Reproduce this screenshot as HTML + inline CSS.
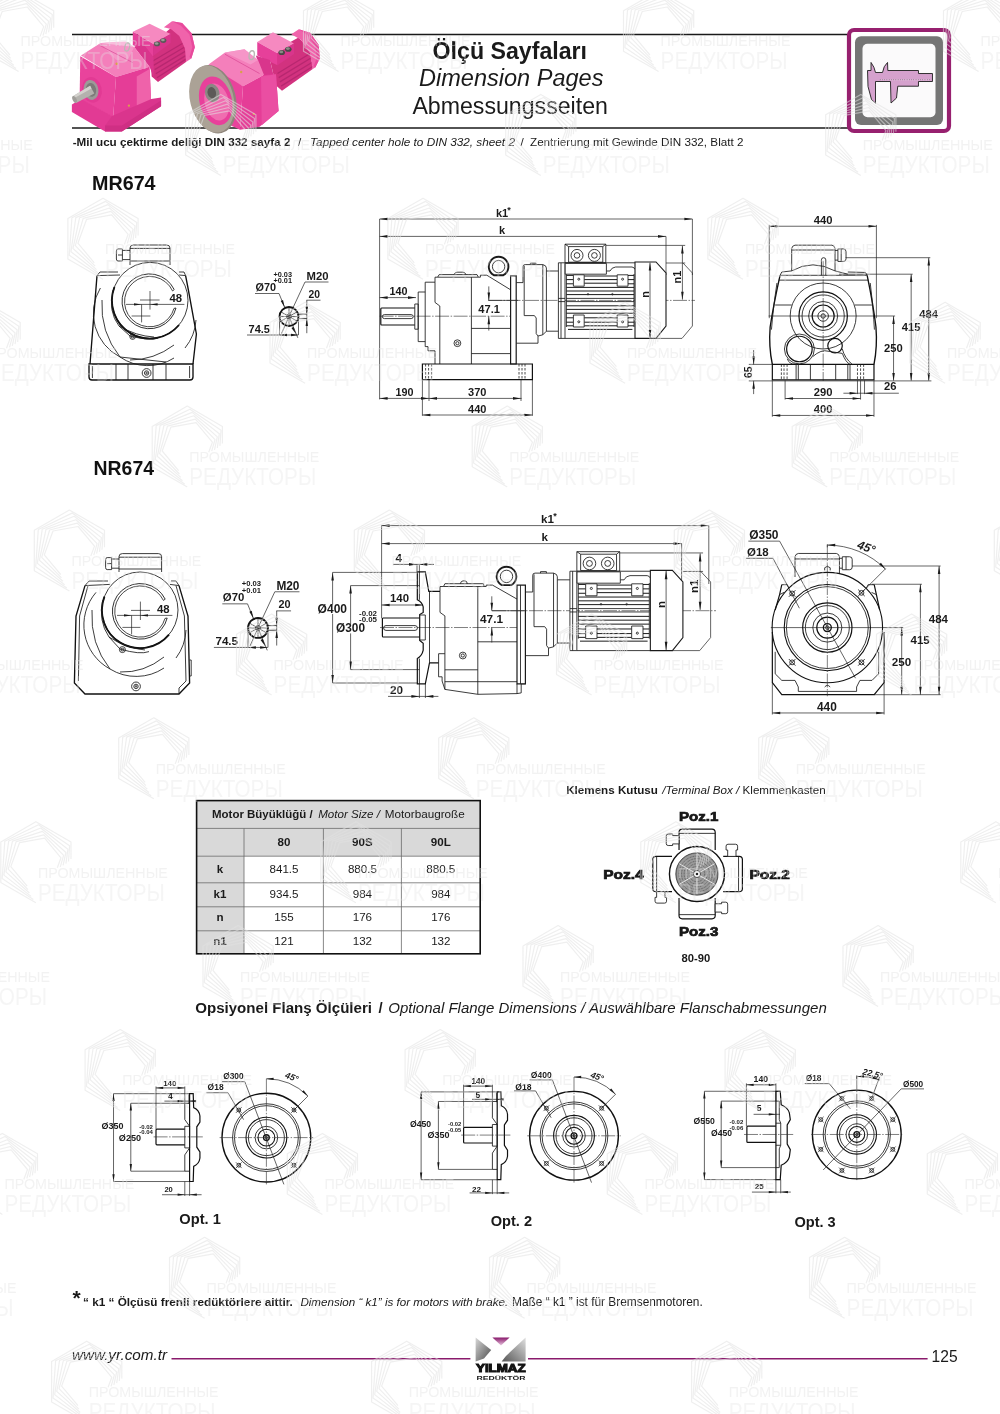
<!DOCTYPE html>
<html><head><meta charset="utf-8"><title>Dimension Pages</title>
<style>
html,body{margin:0;padding:0;background:#fff;}
body{width:1000px;height:1414px;overflow:hidden;font-family:"Liberation Sans",sans-serif;}
svg{display:block;font-family:"Liberation Sans",sans-serif;}
svg{will-change:transform}
.b{font-weight:bold}.i{font-style:italic}
.l{fill:none;stroke:#1a1a1a;stroke-width:.85;vector-effect:non-scaling-stroke}
.t{fill:none;stroke:#111;stroke-width:1.35;vector-effect:non-scaling-stroke}
.d{fill:none;stroke:#222;stroke-width:.7;vector-effect:non-scaling-stroke}
.c{fill:none;stroke:#2a2a2a;stroke-width:.6;stroke-dasharray:14 1.5 1.5 1.5;vector-effect:non-scaling-stroke}
.h{fill:none;stroke:#222;stroke-width:.8;stroke-dasharray:2.5 1.5;vector-effect:non-scaling-stroke}
.l *,.t *,.d *{vector-effect:non-scaling-stroke}
.w{fill:#fff;stroke:#1a1a1a;stroke-width:.85;vector-effect:non-scaling-stroke}
.dim{font-weight:bold;font-size:10.5px;fill:#1a1a1a}
.sm{font-weight:bold;font-size:9px;fill:#1a1a1a}
.tol{font-weight:bold;font-size:6px;fill:#1a1a1a}
</style></head><body>
<svg width="1000" height="1414" viewBox="0 0 1000 1414">
<!-- header -->
<defs>
<marker id="ah" viewBox="0 0 10 4" refX="10" refY="2" markerWidth="7" markerHeight="2.6" orient="auto-start-reverse"><path d="M0,0 L10,2 L0,4 Z" fill="#222"/></marker>
</defs>
<g id="header">
<line x1="72" y1="34.5" x2="848" y2="34.5" stroke="#1a1a1a" stroke-width="1.3"/>
<line x1="72" y1="128" x2="848" y2="128" stroke="#1a1a1a" stroke-width="1.3"/>
<text transform="translate(432.60,58.70)" font-size="23.16" style="font-weight:bold;" fill="#1a1a1a">Ölçü Sayfaları</text>
<text transform="translate(419.00,86.30)" font-size="23.54" style="font-style:italic;" fill="#1a1a1a">Dimension Pages</text>
<text transform="translate(412.40,114.20)" font-size="23.15" style="" fill="#1a1a1a">Abmessungsseiten</text>
<text transform="translate(72.70,146.30)" font-size="11.67" style="font-weight:bold;" fill="#1a1a1a">-Mil ucu çektirme deliği DIN 332 sayfa 2</text>
<text transform="translate(298.00,146.30)" font-size="11.7" style="" fill="#1a1a1a">/</text>
<text transform="translate(310.00,146.30)" font-size="11.77" style="font-style:italic;" fill="#1a1a1a">Tapped center hole to DIN 332, sheet 2</text>
<text transform="translate(520.50,146.30)" font-size="11.7" style="" fill="#1a1a1a">/</text>
<text transform="translate(530.00,146.30)" font-size="11.68" style="" fill="#1a1a1a">Zentrierung mit Gewinde DIN 332, Blatt 2</text>
<!-- icon -->
<rect x="849" y="30" width="100" height="101" rx="5" fill="#fff" stroke="#97206f" stroke-width="4.2"/>
<rect x="855" y="36.3" width="88" height="88.6" rx="6" fill="#757575"/>
<rect x="862.5" y="43.7" width="73" height="73.5" rx="5" fill="#fbfafb"/>
<g transform="translate(830,15) scale(0.14)">
<path d="M268,396.5 L293,396.5 L293,339 Q318,371 325,410.7 L375,410.7 Q382,364 411,339 L413,396.5 L632,396.5 L632,418 L732,418 L732,475 L632,475 L632,508.6 L484,508.6 L475,593 L436,628.6 L432,475 L325,475 L325,630 L296.5,603.6 L271.5,510.7 Z" fill="#d5a1cd" stroke="#1f1f1f" stroke-width="6.5" stroke-linejoin="round"/>
<line x1="357" y1="464" x2="714" y2="464" stroke="#f3e3f0" stroke-width="3"/><line x1="357" y1="462" x2="714" y2="462" stroke="#333" stroke-width="6" stroke-dasharray="3 13"/>
</g>
</g>

<!-- pink gearboxes -->
<g id="pink1" transform="translate(60,15) scale(0.14)">
<!-- motor -->
<path d="M640,250 L700,170 L790,95 L870,150 L900,250 L900,335 L700,478 L655,440 Z" fill="#d2327f"/>
<path d="M660,330 L880,200 M668,360 L888,230 M676,390 L894,260 M684,420 L898,290 M692,448 L900,315" stroke="#b82770" stroke-width="9" fill="none"/>
<path d="M742,88 L800,45 L872,58 L940,130 L963,230 L938,310 L900,335 L893,240 L852,150 L792,100 Z" fill="#f063ab"/>
<path d="M800,45 L872,58 L940,130 L963,230 L938,310 L925,300 L945,230 L925,140 L862,75 Z" fill="#e84a9c"/>
<path d="M520,120 L640,62 L790,135 L665,205 Z" fill="#f689c0"/>
<path d="M520,120 L665,205 L665,292 L640,300 L520,215 Z" fill="#e6409a"/>
<path d="M665,205 L790,135 L790,200 L665,292 Z" fill="#d9358c"/>
<ellipse cx="693" cy="207" rx="22" ry="17" fill="#5a5a58"/><ellipse cx="738" cy="183" rx="22" ry="17" fill="#5a5a58"/>
<ellipse cx="690" cy="203" rx="13" ry="9" fill="#9a9a96"/><ellipse cx="735" cy="179" rx="13" ry="9" fill="#9a9a96"/>
<path d="M530,228 L600,212 L668,300 L670,445 L640,372 Z" fill="#d9358c"/>
<!-- gearbox -->
<path d="M150,290 L290,200 L530,228 L640,370 L400,442 Z" fill="#f47fbb"/>
<path d="M290,200 L330,195 L470,190 L530,228 L480,330 L400,320 Z" fill="#f7a0cd" opacity=".7"/>
<path d="M280,215 L520,340" stroke="#d94a96" stroke-width="5"/>
<path d="M145,295 L400,442 L380,730 L140,600 Z" fill="#e9439c"/>
<path d="M400,442 L640,370 L652,640 L548,700 L380,730 Z" fill="#e53d97"/>
<path d="M548,440 L640,385 L652,640 L548,700 Z" fill="#ef62aa"/>
<path d="M85,640 L150,600 L372,722 L372,792 L322,832 L85,692 Z" fill="#e23a94"/>
<path d="M372,722 L652,600 L722,590 L722,652 L442,832 L322,832 L322,790 Z" fill="#da358d"/>
<path d="M322,790 L442,790 L722,610 L722,652 L442,832 L322,832 Z" fill="#cf2f84"/>
<ellipse cx="228" cy="535" rx="70" ry="92" fill="#e23a94" transform="rotate(-12 228 535)"/>
<ellipse cx="222" cy="535" rx="52" ry="72" fill="#9c9a98" transform="rotate(-12 222 535)"/>
<ellipse cx="222" cy="535" rx="36" ry="50" fill="#7c7a78" transform="rotate(-12 222 535)"/>
<path d="M95,578 L215,505 L245,560 L115,628 Z" fill="#b4b2ae"/>
<path d="M95,578 L215,505 L225,525 L100,595 Z" fill="#d4d2ce"/>
<ellipse cx="104" cy="603" rx="14" ry="26" fill="#a09e9a" transform="rotate(-25 104 603)"/>
<ellipse cx="480" cy="228" rx="17" ry="30" fill="none" stroke="#b9b7b3" stroke-width="9" transform="rotate(15 480 228)"/>
<circle cx="405" cy="348" r="9" fill="#d9a04a"/><circle cx="492" cy="648" r="8" fill="#d9a04a"/>
</g>

<g id="pink2" transform="translate(180,15) scale(0.15)">
<!-- motor -->
<path d="M600,300 L700,200 L790,150 L868,230 L885,360 L680,505 L640,470 Z" fill="#d2327f"/>
<path d="M650,390 L870,255 M658,418 L876,285 M666,446 L882,315 M674,474 L885,343" stroke="#b82770" stroke-width="9" fill="none"/>
<path d="M742,128 L792,95 L868,118 L925,200 L932,290 L902,350 L885,360 L866,255 L806,165 Z" fill="#f063ab"/>
<path d="M792,95 L868,118 L925,200 L932,290 L902,350 L892,340 L912,285 L902,205 L852,135 Z" fill="#e84a9c"/>
<path d="M515,180 L620,115 L760,190 L650,255 Z" fill="#f689c0"/>
<path d="M515,180 L650,255 L650,335 L515,270 Z" fill="#e6409a"/>
<path d="M650,255 L760,190 L760,260 L650,335 Z" fill="#d9358c"/>
<ellipse cx="678" cy="250" rx="22" ry="17" fill="#4a4a48"/><ellipse cx="722" cy="228" rx="22" ry="17" fill="#4a4a48"/>
<ellipse cx="675" cy="246" rx="13" ry="9" fill="#8a8a86"/><ellipse cx="719" cy="224" rx="13" ry="9" fill="#8a8a86"/>
<path d="M505,270 L600,300 L640,470 L650,640 L560,420 Z" fill="#d9358c"/>
<!-- gearbox -->
<path d="M190,330 L300,250 L430,228 L520,300 L560,400 L420,475 L300,420 Z" fill="#f47fbb"/>
<path d="M300,250 L430,228 L520,300 L470,330 Z" fill="#f7a0cd" opacity=".7"/>
<path d="M300,262 L530,390" stroke="#d94a96" stroke-width="5"/>
<path d="M420,475 L560,400 L640,395 L657,640 L530,745 L400,765 Z" fill="#e53d97"/>
<path d="M540,410 L640,395 L657,640 L545,735 Z" fill="#ea4ea2"/>
<path d="M200,340 L420,475 L400,765 L260,700 Z" fill="#e9439c"/>
<!-- flange -->
<ellipse cx="222" cy="562" rx="150" ry="232" fill="#8e857b" transform="rotate(-14 222 562)"/>
<ellipse cx="212" cy="560" rx="145" ry="228" fill="#aba296" transform="rotate(-14 212 560)"/>
<ellipse cx="238" cy="572" rx="108" ry="165" fill="#e8409b" transform="rotate(-14 238 572)"/>
<ellipse cx="245" cy="580" rx="80" ry="125" fill="#f06db0" transform="rotate(-14 245 580)"/>
<ellipse cx="215" cy="520" rx="48" ry="62" fill="#8a8884" transform="rotate(-14 215 520)"/>
<ellipse cx="212" cy="518" rx="28" ry="38" fill="#5c5a58" transform="rotate(-14 212 518)"/>
<ellipse cx="478" cy="268" rx="17" ry="30" fill="none" stroke="#b9b7b3" stroke-width="9" transform="rotate(10 478 268)"/>
<circle cx="408" cy="380" r="8" fill="#d9a04a"/><circle cx="492" cy="660" r="7" fill="#d9a04a"/>
</g>

<!-- MR674 label + top view -->
<text transform="translate(92.00,189.60)" font-size="19.73" style="font-weight:bold;" fill="#111">MR674</text>
<g id="mrtop" transform="translate(70,160) scale(0.2)">
<!-- terminal box -->
<path class="l" d="M300,525 L300,440 Q300,425 318,425 L482,425 Q500,425 500,440 L500,525 M300,442 L500,442 M300,505 L500,505"/>
<path class="l" d="M300,452 L262,452 L262,445 L240,445 Q232,445 232,455 L232,495 Q232,505 240,505 L262,505 L262,498 L300,498 M262,452 L262,498 M240,475 L262,475"/>
<!-- body -->
<path class="t" d="M135,578 L100,1020 M578,578 L590,640 L632,870 L615,1020"/>
<path class="l" d="M135,578 L250,575 M545,575 L578,578 M150,560 L240,560 M545,560 L570,560 L578,578 M150,560 L135,578"/>
<!-- foot -->
<path class="t" d="M95,1020 L615,1020 L615,1085 Q615,1100 600,1100 L110,1100 Q95,1100 95,1085 Z"/>
<path class="l" d="M230,1020 L230,1100 M290,1020 L290,1100 M415,1020 L415,1100 M480,1020 L480,1100 M112,1030 L112,1090 M598,1030 L598,1090"/>
<circle class="l" cx="383" cy="1065" r="22"/><circle class="l" cx="383" cy="1065" r="11"/><circle class="l" cx="383" cy="1065" r="4"/>
<!-- circles -->
<path class="l" style="stroke-width:.9" d="M530,740 A137,137 0 1 1 521,648"/>
<path class="l" style="stroke-width:.8" d="M513,655 A126,126 0 1 0 520,742 M521,648 L513,655 M530,740 L520,742"/>
<circle class="l" cx="400" cy="702" r="190"/><path class="t" style="stroke-width:1.9" d="M222,635 A190,190 0 0 0 545,825"/>
<path class="l" d="M152,640 A245,245 0 0 0 250,985 M250,985 A245,245 0 0 0 520,990 M575,940 A245,245 0 0 0 630,800"/>
<path class="l" d="M215,650 Q190,760 245,830 L300,880 Q400,905 440,890 M245,830 Q330,880 420,885 M250,985 L480,1010 M300,1000 Q420,1000 520,925 M160,700 Q150,860 250,985"/>
<circle class="l" cx="313" cy="883" r="14"/><circle class="l" cx="313" cy="883" r="7"/>
<!-- center marks & dim 48 -->
<path class="d" d="M350,700 L448,700 M400,655 L400,748 M308,780 L402,780"/>
<path class="d" d="M280,722 L572,722 M358,722 L358,812"/>
<path d="M358.0,722.0 L320.0,728.1 L320.0,715.9 Z" fill="#1a1a1a"/><path d="M400.0,722.0 L438.0,715.9 L438.0,728.1 Z" fill="#1a1a1a"/>
</g>
<text transform="translate(169.40,302.40)" font-size="11.33" style="font-weight:bold;" fill="#1a1a1a">48</text>

<!-- shaft end detail (MR and NR) -->
<defs>
<g id="shaftd">
<g transform="translate(240,255) scale(0.1)">
<circle class="t" cx="490" cy="615" r="95" style="stroke-width:1.8"/>
<circle class="l" cx="490" cy="615" r="24"/><circle class="l" cx="490" cy="615" r="10"/>
<path class="d" d="M490,520 L490,710 M408,568 L572,662 M408,662 L572,568 M395,615 L585,615"/>
<path class="l" d="M583,592 L668,592 M583,636 L668,636"/>
<path class="d" d="M150,385 L390,385 L447,525 M650,270 L885,270 M650,270 L500,592 M665,452 L805,452 M668,452 L668,782 M70,800 L582,800 M395,615 L395,800 M585,640 L585,800 M490,615 L415,785 M490,615 L578,828"/>
<path d="M447.0,525.0 L407.8,460.0 L430.0,451.0 Z" fill="#1a1a1a"/>
<path d="M668.0,592.0 L656.0,517.0 L680.0,517.0 Z" fill="#1a1a1a"/><path d="M668.0,636.0 L680.0,711.0 L656.0,711.0 Z" fill="#1a1a1a"/>
<path d="M395.0,800.0 L470.0,788.0 L470.0,812.0 Z" fill="#1a1a1a"/><path d="M585.0,800.0 L510.0,812.0 L510.0,788.0 Z" fill="#1a1a1a"/>
<path d="M560.0,790.0 L514.2,729.4 L535.4,718.1 Z" fill="#1a1a1a"/>
</g>
<text transform="translate(255.50,291.00)" font-size="10.85" style="font-weight:bold;" fill="#1a1a1a">Ø70</text>
<text transform="translate(273.50,276.50)" font-size="7.31" style="font-weight:bold;" fill="#1a1a1a">+0.03</text>
<text transform="translate(273.50,283.20)" font-size="7.31" style="font-weight:bold;" fill="#1a1a1a">+0.01</text>
<text transform="translate(306.50,280.00)" font-size="11.31" style="font-weight:bold;" fill="#1a1a1a">M20</text>
<text transform="translate(308.50,297.50)" font-size="10.34" style="font-weight:bold;" fill="#1a1a1a">20</text>
<text transform="translate(248.50,332.50)" font-size="11.05" style="font-weight:bold;" fill="#1a1a1a">74.5</text>
</g>
</defs>
<use href="#shaftd"/>
<use href="#shaftd" transform="translate(258,628) scale(1.05) translate(-289,-316.5)"/>

<!-- motor + adapter symbol -->
<defs>
<g id="motor">
<g transform="translate(520,195) scale(0.2)">
<!-- adapter -->
<path class="l" d="M-18,438 L15,438 L15,358 Q15,348 26,348 L114,348 Q132,352 132,365 L132,380 L192,380 M21,354 L21,603 L72,603 L81,615 L81,693 L90,705 L90,741 L-18,741 M114,348 L114,699 M132,380 L132,681 L192,681 M114,699 L132,681 M90,705 L114,699 M52,348 L52,341 L80,341 L80,348"/>
<!-- motor flange -->
<path class="w" d="M192,339 L225,339 L225,717 L192,717 Z"/>
<path class="l" d="M192,517 L225,517 M192,533 L225,533 M205,339 L205,717"/>
<!-- terminal box -->
<path class="w" d="M225,246 L429,246 L429,339 L225,339 Z"/>
<path class="l" d="M243,258 L414,258 L414,336 L243,336 Z M225,246 L243,258 M429,246 L414,258"/>
<circle class="w" cx="285" cy="302" r="30"/><circle class="l" cx="285" cy="302" r="14"/>
<circle class="w" cx="372" cy="302" r="30"/><circle class="l" cx="372" cy="302" r="14"/>
<!-- body -->
<path class="l" d="M225,339 L575,339 M225,717 L575,717 M232,395 L232,660 M570,395 L570,660 M432,380 L450,380 Q458,362 478,360 L560,360 Q572,362 575,372"/>
<path class="w" d="M226,342 L432,342 L432,396 L226,396 Z"/>
<path class="l" style="stroke-width:1" d="M232,462 L570,462 M232,480 L570,480 M232,498 L570,498 M232,554 L570,554 M232,572 L570,572 M232,591 L570,591 M232,402 L267,402 M232,423 L267,423 M232,444 L267,444 M321,405 L486,405 M321,441 L486,441 M321,423 L486,423 M540,402 L570,402 M540,423 L570,423 M540,444 L570,444 M232,614 L267,614 M232,636 L267,636 M232,654 L267,654 M321,614 L486,614 M321,636 L486,636 M321,654 L486,654 M540,614 L570,614 M540,636 L570,636 M540,654 L570,654 M240,672 L562,672"/>
<path class="l" d="M232,517 L570,517 M232,533 L570,533"/>
<path class="w" d="M267,399 L321,399 L321,456 L267,456 Z M486,399 L540,399 L540,456 L486,456 Z M267,600 L321,600 L321,660 L267,660 Z M486,600 L540,600 L540,660 L486,660 Z"/>
<circle class="l" cx="294" cy="421" r="5"/><circle class="l" cx="513" cy="421" r="5"/><circle class="l" cx="294" cy="634" r="5"/><circle class="l" cx="513" cy="634" r="5"/>
<circle class="d" cx="340" cy="496" r="4"/><circle class="d" cx="462" cy="496" r="4"/>
<!-- fan cover -->
<path class="w" style="stroke-width:1.1" d="M575,335 L680,335 L730,390 L730,655 L680,717 L575,717 Z"/>
<!-- phantom -->
<path class="d" d="M680,717 L810,717 L862,655 L862,390 L815,340 L730,340 M430,252 L826,252 M815,340 L826,340"/>
<!-- n / n1 dims -->
<path class="d" d="M650,338 L650,714 M812,254 L812,523"/>
<path d="M650.0,337.0 L656.4,377.0 L643.6,377.0 Z" fill="#1a1a1a"/><path d="M650.0,715.0 L643.6,675.0 L656.4,675.0 Z" fill="#1a1a1a"/>
<path d="M812.0,253.0 L818.4,293.0 L805.6,293.0 Z" fill="#1a1a1a"/><path d="M812.0,524.0 L805.6,484.0 L818.4,484.0 Z" fill="#1a1a1a"/>
</g>
<text transform="translate(648.60,297.80) rotate(-90)" font-size="11" style="font-weight:bold;" fill="#1a1a1a">n</text>
<text transform="translate(680.50,283.50) rotate(-90)" font-size="11" style="font-weight:bold;" fill="#1a1a1a">n1</text>
</g>
</defs>
<!-- MR674 side view -->
<g id="mrside" transform="translate(360,195) scale(0.2)">
<!-- dims -->
<path class="d" d="M98,120 L98,1022 M98,120 L1662,120 M98,207 L1530,207 M1662,120 L1662,400 M1530,207 L1530,400 M98,513 L280,513 M98,1017 L808,1017 M345,925 L345,1030 M805,925 L805,1030 M312,925 L312,1104 M862,925 L862,1104 M312,1100 L862,1100"/>
<path d="M98.0,120.0 L138.0,113.6 L138.0,126.4 Z" fill="#1a1a1a"/><path d="M1662.0,120.0 L1622.0,126.4 L1622.0,113.6 Z" fill="#1a1a1a"/>
<path d="M98.0,207.0 L138.0,200.6 L138.0,213.4 Z" fill="#1a1a1a"/><path d="M1530.0,207.0 L1490.0,213.4 L1490.0,200.6 Z" fill="#1a1a1a"/>
<path d="M98.0,513.0 L138.0,506.6 L138.0,519.4 Z" fill="#1a1a1a"/><path d="M280.0,513.0 L240.0,519.4 L240.0,506.6 Z" fill="#1a1a1a"/>
<path d="M98.0,1017.0 L138.0,1010.6 L138.0,1023.4 Z" fill="#1a1a1a"/><path d="M345.0,1017.0 L305.0,1023.4 L305.0,1010.6 Z" fill="#1a1a1a"/><path d="M345.0,1017.0 L385.0,1010.6 L385.0,1023.4 Z" fill="#1a1a1a"/><path d="M805.0,1017.0 L765.0,1023.4 L765.0,1010.6 Z" fill="#1a1a1a"/>
<path d="M312.0,1100.0 L352.0,1093.6 L352.0,1106.4 Z" fill="#1a1a1a"/><path d="M862.0,1100.0 L822.0,1106.4 L822.0,1093.6 Z" fill="#1a1a1a"/>
<!-- shaft -->
<path class="t" style="stroke-width:1.2" d="M274,565 L108,565 Q104,565 104,570 L104,645 Q104,650 108,650 L274,650"/>
<path class="l" d="M122,598 L256,598 Q266,598 266,608 Q266,618 256,618 L122,618 Q112,618 112,608 Q112,598 122,598 Z"/>
<path class="c" d="M98,606 L752,606"/>
<!-- housing -->
<path class="l" d="M274,545 L291,545 L291,671 L274,671 Z"/>
<path class="l" d="M291,485 L326,485 M291,485 L291,733 L326,733 M326,436 L326,758 L340,758 L340,779 L375,779 L375,845 M326,436 L375,436 L375,411 L388,411 L396,398 L585,398 L592,411 L602,411 L602,401 L634,401 L753,474 M375,436 L375,537 L399,555 L399,845 M557,411 L557,845 M388,411 L592,411 M557,667 L753,667 M557,793 L753,793 M470,398 Q475,386 485,386 L515,386 Q525,386 530,398"/>
<path class="w" style="stroke-width:1.2" d="M753,404 L781,404 L781,845 L753,845 Z"/>
<path class="w" style="stroke-width:1.9" d="M669.5,401 A49,49 0 1 1 716.5,401 Z"/>
<circle class="l" cx="693" cy="358" r="31"/>
<circle class="l" cx="487" cy="741" r="17"/><circle class="l" cx="487" cy="741" r="8"/>
<!-- foot -->
<path class="t" style="stroke-width:1.2" d="M312,845 L862,845 L862,923 L312,923 Z"/>
<path class="h" d="M328,845 L328,923 M343,845 L343,923 M358,845 L358,923 M795,845 L795,923 M810,845 L810,923 M825,845 L825,923"/>
<!-- 47.1 -->
<path class="d" d="M644,457 L644,527 M644,606 L644,678 M644,527 L790,527"/>
<path d="M644.0,527.0 L637.6,487.0 L650.4,487.0 Z" fill="#1a1a1a"/><path d="M644.0,606.0 L650.4,646.0 L637.6,646.0 Z" fill="#1a1a1a"/>
</g>
<path class="c" d="M488,300.4 L695,300.4"/>
<use href="#motor"/>
<text transform="translate(496.00,216.60)" font-size="11" style="font-weight:bold;" fill="#1a1a1a">k1</text><text transform="translate(507.30,213.00)" font-size="9" style="font-weight:bold;" fill="#1a1a1a">*</text>
<text transform="translate(499.00,234.40)" font-size="11" style="font-weight:bold;" fill="#1a1a1a">k</text>
<text transform="translate(389.60,295.00)" font-size="10.79" style="font-weight:bold;" fill="#1a1a1a">140</text>
<text transform="translate(478.30,312.60)" font-size="11.10" style="font-weight:bold;" fill="#1a1a1a">47.1</text>
<text transform="translate(395.60,395.60)" font-size="10.79" style="font-weight:bold;" fill="#1a1a1a">190</text>
<text transform="translate(468.00,395.60)" font-size="11.03" style="font-weight:bold;" fill="#1a1a1a">370</text>
<text transform="translate(468.00,413.00)" font-size="11.03" style="font-weight:bold;" fill="#1a1a1a">440</text>

<!-- MR674 end view -->
<g id="mrend" transform="translate(740,195) scale(0.22)">
<!-- dims -->
<path class="d" d="M133,142 L620,142 M133,136 L133,560 M620,136 L620,560 M609,843 L609,1008 M130,550 L705,550 M698,550 L698,843 M450,360 L785,360 M778,360 L778,843 M480,285 L865,285 M858,285 L858,843 M40,770 L145,770 M40,845 L870,845 M62,705 L62,770 M62,845 L62,905 M205,843 L205,930 M548,843 L548,930 M205,925 L548,925 M534,843 L534,905 M566,843 L566,905 M470,901 L722,901 M147,843 L147,1008 M147,1002 L609,1002"/>
<path d="M133.0,142.0 L169.0,136.2 L169.0,147.8 Z" fill="#1a1a1a"/><path d="M620.0,142.0 L584.0,147.8 L584.0,136.2 Z" fill="#1a1a1a"/>
<path d="M698.0,550.0 L703.8,586.0 L692.2,586.0 Z" fill="#1a1a1a"/><path d="M698.0,845.0 L692.2,809.0 L703.8,809.0 Z" fill="#1a1a1a"/>
<path d="M778.0,360.0 L783.8,396.0 L772.2,396.0 Z" fill="#1a1a1a"/><path d="M778.0,845.0 L772.2,809.0 L783.8,809.0 Z" fill="#1a1a1a"/>
<path d="M858.0,285.0 L863.8,321.0 L852.2,321.0 Z" fill="#1a1a1a"/><path d="M858.0,845.0 L852.2,809.0 L863.8,809.0 Z" fill="#1a1a1a"/>
<path d="M62.0,770.0 L56.2,734.0 L67.8,734.0 Z" fill="#1a1a1a"/><path d="M62.0,845.0 L67.8,881.0 L56.2,881.0 Z" fill="#1a1a1a"/>
<path d="M205.0,925.0 L241.0,919.2 L241.0,930.8 Z" fill="#1a1a1a"/><path d="M548.0,925.0 L512.0,930.8 L512.0,919.2 Z" fill="#1a1a1a"/>
<path d="M534.0,901.0 L498.0,906.8 L498.0,895.2 Z" fill="#1a1a1a"/><path d="M566.0,901.0 L602.0,895.2 L602.0,906.8 Z" fill="#1a1a1a"/>
<path d="M147.0,1002.0 L183.0,996.2 L183.0,1007.8 Z" fill="#1a1a1a"/><path d="M609.0,1002.0 L573.0,1007.8 L573.0,996.2 Z" fill="#1a1a1a"/>
<!-- body -->
<path class="t" d="M182,365 Q152,500 137,600 Q130,690 147,770 M578,365 Q606,500 618,600 Q625,690 609,770"/>
<path class="l" d="M182,365 L578,365 M176,387 L584,387 M160,500 L235,500 M522,500 L600,500 M182,365 L190,350 L235,345 M578,365 L570,352 L490,350 M168,400 Q150,520 143,612 M592,400 Q606,520 611,612"/>
<!-- terminal box / dome -->
<path class="l" d="M235,345 L235,243 Q237,230 250,228 L418,228 Q430,230 432,243 L432,345 M235,250 L432,250 M235,345 Q330,290 432,345 M432,345 L490,360 M432,252 L445,252 L445,245 L470,245 Q482,245 482,258 L482,290 Q482,302 470,302 L445,302 L445,296 L432,296 M445,252 L445,296 M460,245 L460,302"/>
<path class="l" d="M370,365 L370,295 Q370,285 380,285 Q390,285 390,295 L390,365"/>
<!-- circles -->
<circle class="l" cx="378" cy="550" r="150"/>
<circle class="t" style="stroke-width:1.2" cx="378" cy="550" r="110"/>
<circle class="l" cx="378" cy="550" r="96"/>
<circle class="l" cx="378" cy="550" r="66"/><circle class="t" style="stroke-width:1.2" cx="378" cy="550" r="50"/>
<circle class="l" cx="378" cy="550" r="24"/><circle class="l" cx="378" cy="550" r="10"/>
<circle class="t" style="stroke-width:1.2" cx="270" cy="700" r="58"/><circle class="l" cx="270" cy="700" r="68"/>
<circle class="t" style="stroke-width:1.2" cx="432" cy="685" r="33"/>
<path class="l" d="M215,745 Q225,770 250,770 M330,735 Q370,700 400,710 L465,720 Q480,760 500,770 M465,700 Q475,740 510,770"/>
<path class="c" d="M378,300 L378,845"/>
<!-- foot -->
<path class="t" style="stroke-width:1.2" d="M147,770 L609,770 L609,840 L147,840 Z"/>
<path class="l" d="M255,770 L255,840 M265,770 L265,840 M320,770 L320,840 M435,770 L435,840 M490,770 L490,840 M500,770 L500,840"/>
<path class="h" d="M188,770 L188,840 M200,770 L200,840 M214,770 L214,840 M534,770 L534,840 M548,770 L548,840 M562,770 L562,840"/>
</g>
<text transform="translate(813.70,223.60)" font-size="11.21" style="font-weight:bold;" fill="#1a1a1a">440</text>
<text transform="translate(884.00,352.30)" font-size="11.21" style="font-weight:bold;" fill="#1a1a1a">250</text>
<text transform="translate(901.70,331.40)" font-size="11.21" style="font-weight:bold;" fill="#1a1a1a">415</text>
<text transform="translate(919.30,318.20)" font-size="11.21" style="font-weight:bold;" fill="#1a1a1a">484</text>
<text transform="translate(752.00,378.00) rotate(-90)" font-size="10.34" style="font-weight:bold;" fill="#1a1a1a">65</text>
<text transform="translate(813.70,396.30)" font-size="11.21" style="font-weight:bold;" fill="#1a1a1a">290</text>
<text transform="translate(884.00,390.40)" font-size="11.24" style="font-weight:bold;" fill="#1a1a1a">26</text>
<text transform="translate(813.70,412.80)" font-size="11.21" style="font-weight:bold;" fill="#1a1a1a">400</text>

<!-- NR674 label + top view -->
<text transform="translate(93.60,475.00)" font-size="19.40" style="font-weight:bold;" fill="#111">NR674</text>
<g id="nrtop" transform="translate(70,440) scale(0.2)">
<!-- terminal box -->
<path class="l" d="M245,660 L245,583 Q245,568 262,568 L442,568 Q458,568 458,583 L458,660 M245,586 L458,586 M245,645 L458,645"/>
<path class="l" d="M245,595 L208,595 L208,588 L186,588 Q178,588 178,598 L178,638 Q178,648 186,648 L208,648 L208,641 L245,641 M208,595 L208,641 M186,618 L208,618"/>
<!-- body -->
<path class="t" d="M75,728 L30,880 L22,1215 L75,1270 L545,1270 L598,1215 L590,880 L545,728"/>
<path class="l" d="M75,728 L200,722 M500,722 L545,728 M95,705 L190,705 M505,705 L530,705 L545,728 M95,705 L75,728 M90,728 L48,880 L42,1205 M530,728 L572,880 L580,1205 M598,1100 L606,1100 L606,1180 L598,1180 M545,1270 L545,1240 L580,1205"/>
<!-- circles -->
<path class="l" style="stroke-width:.9" d="M486,890 A139,139 0 1 1 476,796"/>
<path class="l" style="stroke-width:.8" d="M467,802 A128,128 0 1 0 475,892 M476,796 L467,802 M486,890 L475,892"/>
<circle class="l" cx="350" cy="850" r="190"/><path class="t" style="stroke-width:1.9" d="M172,783 A190,190 0 0 0 495,973"/>
<path class="l" d="M130,762 A250,250 0 0 0 200,1145 M200,1145 A250,250 0 0 0 470,1140 M530,1090 A250,250 0 0 0 580,950"/>
<path class="l" d="M165,800 Q140,905 195,985 L250,1045 Q350,1075 395,1058 M195,985 Q280,1040 375,1050 M250,1160 Q370,1165 470,1085 M110,850 Q100,1020 200,1145"/>
<circle class="l" cx="262" cy="1048" r="15"/><circle class="l" cx="262" cy="1048" r="7"/>
<circle class="l" cx="330" cy="1232" r="22"/><circle class="l" cx="330" cy="1232" r="11"/><circle class="l" cx="330" cy="1232" r="4"/>
<!-- center marks & dim 48 -->
<path class="d" d="M305,852 L400,852 M352,808 L352,900 M262,937 L352,937"/>
<path class="d" d="M235,877 L512,877 M308,877 L308,972"/>
<path d="M308.0,877.0 L270.0,883.1 L270.0,870.9 Z" fill="#1a1a1a"/><path d="M352.0,877.0 L390.0,870.9 L390.0,883.1 Z" fill="#1a1a1a"/>
</g>
<text transform="translate(157.00,613.00)" font-size="11.33" style="font-weight:bold;" fill="#1a1a1a">48</text>

<!-- NR674 side view -->
<g id="nrside" transform="translate(360,500) scale(0.2)">
<!-- dims -->
<path class="d" d="M108,128 L108,592 M108,128 L1744,128 M108,218 L1608,218 M1744,128 L1744,420 M1608,218 L1608,420 M108,525 L316,525 M165,322 L370,322 M285,322 L285,362 M297,322 L297,362 M140,982 L392,982 M297,919 L297,990 M327,919 L327,990 M-137,362 L-137,522 M-137,570 L-137,915 M-47,428 L-47,620 M-47,667 L-47,848 M-137,362 L287,362 M-137,915 L287,915 M-47,428 L297,428 M-47,848 L297,848"/>
<path d="M-137.0,362.0 L-130.6,402.0 L-143.4,402.0 Z" fill="#1a1a1a"/><path d="M-137.0,915.0 L-143.4,875.0 L-130.6,875.0 Z" fill="#1a1a1a"/><path d="M-47.0,428.0 L-40.6,468.0 L-53.4,468.0 Z" fill="#1a1a1a"/><path d="M-47.0,848.0 L-53.4,808.0 L-40.6,808.0 Z" fill="#1a1a1a"/>
<path d="M108.0,128.0 L148.0,121.6 L148.0,134.4 Z" fill="#1a1a1a"/><path d="M1744.0,128.0 L1704.0,134.4 L1704.0,121.6 Z" fill="#1a1a1a"/>
<path d="M108.0,218.0 L148.0,211.6 L148.0,224.4 Z" fill="#1a1a1a"/><path d="M1608.0,218.0 L1568.0,224.4 L1568.0,211.6 Z" fill="#1a1a1a"/>
<path d="M108.0,525.0 L148.0,518.6 L148.0,531.4 Z" fill="#1a1a1a"/><path d="M316.0,525.0 L276.0,531.4 L276.0,518.6 Z" fill="#1a1a1a"/>
<path d="M285.0,322.0 L245.0,328.4 L245.0,315.6 Z" fill="#1a1a1a"/><path d="M297.0,322.0 L337.0,315.6 L337.0,328.4 Z" fill="#1a1a1a"/>
<path d="M297.0,982.0 L257.0,988.4 L257.0,975.6 Z" fill="#1a1a1a"/><path d="M327.0,982.0 L367.0,975.6 L367.0,988.4 Z" fill="#1a1a1a"/>
<!-- shaft -->
<path class="t" style="stroke-width:1.2" d="M298,590 L116,590 Q112,590 112,595 L112,680 Q112,685 116,685 L298,685"/>
<path class="l" d="M130,628 L275,628 Q287,628 287,640 Q287,652 275,652 L130,652 Q118,652 118,640 Q118,628 130,628 Z"/>
<path class="c" d="M100,637.6 L790,637.6"/>
<!-- flange -->
<path class="t" style="stroke-width:1.2" d="M286.6,359 L326.5,359 L344,457 L400,457 M286.6,359 L286.6,499 Q310,510 316,534 L316,562 L298.5,572.5 L298.5,702 L316,716 L316,751 Q310,780 286.6,793 L286.6,919 L326.5,919 L347.5,814 L393,814"/>
<path class="l" d="M297,359 L297,499 M297,793 L297,919 M347.5,457 L347.5,814 M326.5,575 L326.5,700 M298.5,575 L326.5,575 M298.5,700 L326.5,700"/>
<!-- housing -->
<path class="l" d="M400,457 L400,432.5 L417.5,432.5 L424.5,418.5 L617,418.5 L620.5,432.5 L631,432.5 L631,425.5 L662.5,425.5 L785,495.5 M400,457 L400,562 L424.5,579.5 L424.5,947 M417.5,432.5 L620.5,432.5 M393,768.5 L424.5,768.5 M393,768.5 L393,884 L410.5,884 L410.5,905 L424.5,947 L589,971.5 L785,968 L806,964.5 L806,919 L827,919 M589,432.5 L589,971.5 M589,709 L785,709 M424.5,849 L589,849 M424.5,908.5 L785,908.5 M501.5,418.5 Q505,404.5 515,404.5 L525,404.5 Q535,404.5 536.5,418.5"/>
<path class="w" style="stroke-width:1.2" d="M785,425.5 L827,425.5 L827,919 L785,919 Z"/>
<path class="l" d="M802.5,425.5 L802.5,919 M785,919 L785,968"/>
<path class="w" style="stroke-width:1.9" d="M709,425.5 A49,49 0 1 1 756,425.5 Z"/>
<circle class="l" cx="732.5" cy="382" r="31"/>
<circle class="l" cx="514" cy="777.6" r="17"/><circle class="l" cx="514" cy="777.6" r="8"/>
<!-- 47.1 -->
<path class="d" d="M659,481.5 L659,553.6 M659,637.6 L659,712.5 M659,553.6 L830,553.6"/>
<path d="M659.0,553.6 L652.6,513.6 L665.4,513.6 Z" fill="#1a1a1a"/><path d="M659.0,637.6 L665.4,677.6 L652.6,677.6 Z" fill="#1a1a1a"/>
</g>
<path class="c" d="M492,610.7 L716,610.7"/>
<use href="#motor" transform="translate(525.4,610.7) scale(1.05) translate(-516,-300.4)"/>
<text transform="translate(541.00,522.60)" font-size="11.6" style="font-weight:bold;" fill="#1a1a1a">k1</text><text transform="translate(553.30,519.00)" font-size="9" style="font-weight:bold;" fill="#1a1a1a">*</text>
<text transform="translate(541.60,540.60)" font-size="11.6" style="font-weight:bold;" fill="#1a1a1a">k</text>
<text transform="translate(395.60,562.00)" font-size="11.6" style="font-weight:bold;" fill="#1a1a1a">4</text>
<text transform="translate(390.00,602.40)" font-size="11.39" style="font-weight:bold;" fill="#1a1a1a">140</text>
<text transform="translate(480.00,623.00)" font-size="11.82" style="font-weight:bold;" fill="#1a1a1a">47.1</text>
<text transform="translate(390.00,694.00)" font-size="11.69" style="font-weight:bold;" fill="#1a1a1a">20</text>
<text transform="translate(317.60,613.00)" font-size="12.02" style="font-weight:bold;" fill="#1a1a1a">Ø400</text>
<text transform="translate(336.00,632.40)" font-size="11.85" style="font-weight:bold;" fill="#1a1a1a">Ø300</text>
<text transform="translate(359.00,616.00)" font-size="7.90" style="font-weight:bold;" fill="#1a1a1a">-0.02</text>
<text transform="translate(359.00,622.40)" font-size="7.90" style="font-weight:bold;" fill="#1a1a1a">-0.05</text>

<!-- NR674 end view -->
<g id="nrend" transform="translate(740,500) scale(0.22)">
<!-- dims -->
<path class="d" d="M38,187 L180,187 L525,810 M28,265 L150,265 L270,492 M397,205 L397,215 M552,422 L662,312 M140,580 L742,580 M735,580 L735,885 M600,383 L827,383 M820,383 L820,885 M510,300 L912,300 M905,300 L905,885 M610,885 L912,885 M147,830 L147,975 M655,830 L655,975 M147,968 L655,968"/>
<path class="d" d="M397,205 A375,375 0 0 1 662,315"/>
<path d="M662.0,315.0 L632.5,293.6 L640.6,285.5 Z" fill="#1a1a1a"/><path d="M397.0,205.0 L433.0,199.2 L433.0,210.8 Z" fill="#1a1a1a"/>
<path d="M735.0,580.0 L740.8,616.0 L729.2,616.0 Z" fill="#1a1a1a"/><path d="M735.0,885.0 L729.2,849.0 L740.8,849.0 Z" fill="#1a1a1a"/>
<path d="M820.0,383.0 L825.8,419.0 L814.2,419.0 Z" fill="#1a1a1a"/><path d="M820.0,885.0 L814.2,849.0 L825.8,849.0 Z" fill="#1a1a1a"/>
<path d="M905.0,300.0 L910.8,336.0 L899.2,336.0 Z" fill="#1a1a1a"/><path d="M905.0,885.0 L899.2,849.0 L910.8,849.0 Z" fill="#1a1a1a"/>
<path d="M147.0,968.0 L183.0,962.2 L183.0,973.8 Z" fill="#1a1a1a"/><path d="M655.0,968.0 L619.0,973.8 L619.0,962.2 Z" fill="#1a1a1a"/>
<!-- terminal box -->
<path class="l" d="M250,350 L250,258 Q252,245 265,243 L438,243 Q450,245 452,258 L452,335 M250,268 L452,268 M452,265 L465,265 L465,258 L498,258 Q510,258 510,270 L510,305 Q510,317 498,317 L465,317 L465,310 L452,310 M465,265 L465,310 M482,258 L482,317 M385,320 L385,308 Q397,295 410,308 L410,320"/>
<!-- housing -->
<path class="t" style="stroke-width:1.2" d="M190,385 L180,430 L160,500 M147,600 L147,830 L190,885 L610,885 L655,830 L655,600 M635,500 L620,430 L610,385"/>
<path class="l" d="M190,385 L215,385 L222,400 M610,385 L582,385 L575,400 M180,430 L200,420 M620,430 L598,420 M160,690 L160,790 L190,820 L250,820 L265,850 L265,870 L530,870 L530,850 L545,820 L600,820 L630,790 L630,690 M385,850 Q397,835 410,850"/>
<!-- circles -->
<circle class="t" style="stroke-width:1.1" cx="397" cy="580" r="251"/>
<circle class="t" style="stroke-width:1.1" cx="397" cy="580" r="196"/><circle class="l" cx="397" cy="580" r="186"/>
<circle class="t" style="stroke-width:1.2" cx="397" cy="580" r="112"/><circle class="l" cx="397" cy="580" r="100"/>
<circle class="l" cx="397" cy="580" r="66"/><circle class="t" style="stroke-width:1.2" cx="397" cy="580" r="48"/>
<circle class="t" cx="397" cy="580" r="18"/><circle class="l" cx="397" cy="580" r="8"/>
<g class="l"><circle cx="237" cy="425" r="11"/><circle cx="552" cy="422" r="11"/><circle cx="237" cy="738" r="11"/><circle cx="552" cy="738" r="11"/>
<path d="M222,410 L252,440 M252,410 L222,440 M537,407 L567,437 M567,407 L537,437 M222,723 L252,753 M252,723 L222,753 M537,723 L567,753 M567,723 L537,753"/></g>
<path class="c" d="M397,200 L397,892"/>
</g>
<text transform="translate(749.20,538.50)" font-size="11.98" style="font-weight:bold;" fill="#1a1a1a">Ø350</text>
<text transform="translate(747.00,556.00)" font-size="11.43" style="font-weight:bold;" fill="#1a1a1a">Ø18</text>
<text transform="translate(856.50,548.00) rotate(20)" font-size="11.90" style="font-weight:bold;font-style:italic;" fill="#1a1a1a">45°</text>
<text transform="translate(891.80,666.00)" font-size="11.63" style="font-weight:bold;" fill="#1a1a1a">250</text>
<text transform="translate(910.50,644.00)" font-size="11.51" style="font-weight:bold;" fill="#1a1a1a">415</text>
<text transform="translate(928.80,623.20)" font-size="11.51" style="font-weight:bold;" fill="#1a1a1a">484</text>
<text transform="translate(817.00,710.80)" font-size="11.87" style="font-weight:bold;" fill="#1a1a1a">440</text>

<!-- table -->
<g id="table">
<rect x="196.6" y="800.6" width="283.6" height="55.6" fill="#d9d9d9"/>
<rect x="196.6" y="856.2" width="47.4" height="97.6" fill="#d9d9d9"/>
<rect x="244" y="856.2" width="236.2" height="97.6" fill="#fff"/>
<path d="M196.6,828.4 H480.2 M196.6,856.2 H480.2 M196.6,882.8 H480.2 M196.6,906.8 H480.2 M196.6,930.8 H480.2 M244,828.4 V953.8 M323.4,828.4 V953.8 M401.4,828.4 V953.8" stroke="#6a6a6a" stroke-width=".8" fill="none"/>
<rect x="196.6" y="800.6" width="283.6" height="153.2" fill="none" stroke="#111" stroke-width="1.6"/>
<text transform="translate(212.00,818.00)" font-size="11.48" style="font-weight:bold;" fill="#1a1a1a">Motor Büyüklüğü /</text>
<text transform="translate(318.20,818.00)" font-size="11.58" style="font-style:italic;" fill="#1a1a1a">Motor Size /</text>
<text transform="translate(384.80,818.00)" font-size="11.70" style="" fill="#1a1a1a">Motorbaugroße</text>
<g font-size="11.6" text-anchor="middle" fill="#1a1a1a">
<g font-weight="bold"><text x="284" y="846">80</text><text x="362.4" y="846">90S</text><text x="440.8" y="846">90L</text>
<text x="220" y="872.5">k</text><text x="220" y="897.8">k1</text><text x="220" y="921.2">n</text><text x="220" y="944.6">n1</text></g>
<text x="284" y="872.5">841.5</text><text x="362.4" y="872.5">880.5</text><text x="440.8" y="872.5">880.5</text>
<text x="284" y="897.8">934.5</text><text x="362.4" y="897.8">984</text><text x="440.8" y="897.8">984</text>
<text x="284" y="921.2">155</text><text x="362.4" y="921.2">176</text><text x="440.8" y="921.2">176</text>
<text x="284" y="944.6">121</text><text x="362.4" y="944.6">132</text><text x="440.8" y="944.6">132</text>
</g>
</g>

<!-- terminal box positions -->
<text transform="translate(566.20,793.60)" font-size="11.63" style="font-weight:bold;" fill="#1a1a1a">Klemens Kutusu</text>
<text transform="translate(662.20,793.60)" font-size="11.61" style="font-style:italic;" fill="#1a1a1a">/Terminal Box /</text>
<text transform="translate(742.60,793.60)" font-size="11.58" style="" fill="#1a1a1a">Klemmenkasten</text>
<g id="tb" transform="translate(560,770) scale(0.32)">
<!-- boxes -->
<path class="t" style="stroke-width:1.2" d="M372,250 L372,195 Q372,185 382,185 L475,185 Q485,185 485,195 L485,250 M372,400 L372,455 Q372,465 382,465 L475,465 Q485,465 485,455 L485,400 M350,270 L300,270 Q290,270 290,280 L290,370 Q290,380 300,380 L350,380 M510,270 L560,270 Q570,270 570,280 L570,370 Q570,380 560,380 L510,380"/>
<path class="l" d="M372,198 L485,198 M372,452 L485,452 M302,270 L302,380 M558,270 L558,380"/>
<!-- glands -->
<path class="w" d="M372,205 L352,205 L352,200 L338,200 Q332,200 332,206 L332,230 Q332,236 338,236 L352,236 L352,231 L372,231 Z"/>
<path class="w" d="M524,270 L524,250 L519,250 L519,238 Q519,232 525,232 L549,232 Q555,232 555,238 L555,250 L550,250 L550,270 Z"/>
<path class="w" d="M302,380 L302,398 L297,398 L297,410 Q297,416 303,416 L327,416 Q333,416 333,410 L333,398 L328,398 L328,380 Z"/>
<path class="w" d="M485,418 L505,418 L505,413 L518,413 Q524,413 524,419 L524,443 Q524,449 518,449 L505,449 L505,444 L485,444 Z"/>
<!-- fan -->
<circle cx="428" cy="325" r="86" fill="#fff" class="t" style="stroke-width:1.4;fill:#fff"/>
<circle cx="428" cy="325" r="66" fill="#9a9a9a" stroke="#222" stroke-width="2.5"/>
<circle cx="428" cy="325" r="64" fill="none" stroke="#555" stroke-width="1" stroke-dasharray="2 2"/>
<g stroke="#444" stroke-width="2.5" stroke-dasharray="2.5 2.5" fill="none"><circle cx="428" cy="325" r="56"/><circle cx="428" cy="325" r="48"/><circle cx="428" cy="325" r="40"/><circle cx="428" cy="325" r="32"/><circle cx="428" cy="325" r="24"/></g>
<path d="M428,325 L428,262 M428,325 L483,293 M428,325 L483,357 M428,325 L428,388 M428,325 L373,357 M428,325 L373,293" stroke="#e8e8e8" stroke-width="3"/>
<circle cx="428" cy="325" r="11" fill="#fff" stroke="#222" stroke-width="2.5"/><circle cx="428" cy="325" r="4" fill="#222"/>
</g>
<g font-size="12.5" font-weight="bold" fill="#111" stroke="#111" stroke-width=".7">
<text transform="translate(679.00,821.20) scale(1.1428,1)" font-size="13.2" style="font-weight:bold;" fill="#1a1a1a">Poz.1</text>
<text transform="translate(603.20,878.80) scale(1.1776,1)" font-size="13.2" style="font-weight:bold;" fill="#1a1a1a">Poz.4</text>
<text transform="translate(749.40,878.80) scale(1.1718,1)" font-size="13.2" style="font-weight:bold;" fill="#1a1a1a">Poz.2</text>
<text transform="translate(679.00,936.40) scale(1.1428,1)" font-size="13.2" style="font-weight:bold;" fill="#1a1a1a">Poz.3</text>
</g>
<text transform="translate(681.60,962.00)" font-size="11.26" style="font-weight:bold;" fill="#1a1a1a">80-90</text>
<!-- heading optional flanges -->
<text transform="translate(195.20,1013.30)" font-size="15.08" style="font-weight:bold;" fill="#1a1a1a">Opsiyonel Flanş Ölçüleri</text><text transform="translate(378.50,1013.30)" font-size="15" style="font-weight:bold;" fill="#1a1a1a">/</text>
<text transform="translate(388.30,1013.30)" font-size="15.02" style="font-style:italic;" fill="#1a1a1a">Optional Flange Dimensions / Auswählbare Flanschabmessungen</text>

<!-- optional flanges -->
<defs>
<g id="optside">
<path class="d" d="M98,182 L98,548 M98,182 L415,182 M98,548 L415,548 M170,222 L170,505 M170,222 L395,222 M170,505 L395,505 M275,158 L395,158 M275,152 L275,330 M395,152 L395,222 M310,213 L440,213 M412,185 L412,225 M300,603 L465,603 M395,548 L395,608 M415,548 L415,608"/>
<path d="M98.0,182.0 L102.8,212.0 L93.2,212.0 Z" fill="#1a1a1a"/><path d="M98.0,548.0 L93.2,518.0 L102.8,518.0 Z" fill="#1a1a1a"/><path d="M170.0,222.0 L174.8,252.0 L165.2,252.0 Z" fill="#1a1a1a"/><path d="M170.0,505.0 L165.2,475.0 L174.8,475.0 Z" fill="#1a1a1a"/>
<path d="M275.0,158.0 L305.0,153.2 L305.0,162.8 Z" fill="#1a1a1a"/><path d="M395.0,158.0 L365.0,162.8 L365.0,153.2 Z" fill="#1a1a1a"/>
<path d="M395.0,213.0 L365.0,217.8 L365.0,208.2 Z" fill="#1a1a1a"/><path d="M412.0,213.0 L442.0,208.2 L442.0,217.8 Z" fill="#1a1a1a"/>
<path d="M395.0,603.0 L365.0,607.8 L365.0,598.2 Z" fill="#1a1a1a"/><path d="M415.0,603.0 L445.0,598.2 L445.0,607.8 Z" fill="#1a1a1a"/>
<path class="t" style="stroke-width:1.2" d="M395,330 L279,330 Q275,330 275,334 L275,391 Q275,395 279,395 L395,395"/>
<path class="t" style="stroke-width:1.2" d="M415,182 L430,182 L432,240 Q455,250 458,275 L458,300 L445,320 L445,405 L458,425 L458,450 Q455,475 432,485 L430,548 L415,548 Z"/>
<path class="l" d="M395,222 L395,290 L415,318 M395,505 L395,437 L415,408 M395,318 L415,318 L415,408 L395,408 Z M395,222 L415,222 M395,505 L415,505"/>
<path class="c" d="M265,362 L470,362"/>
</g>
<g id="optfront">
<circle class="t" cx="735" cy="365" r="185"/>
<circle class="l" cx="735" cy="365" r="141"/><circle class="l" cx="735" cy="365" r="133"/>
<circle class="t" style="stroke-width:1.1" cx="735" cy="365" r="85"/><circle class="l" cx="735" cy="365" r="75"/>
<circle class="l" cx="735" cy="365" r="47"/><circle class="t" style="stroke-width:1.1" cx="735" cy="365" r="35"/>
<circle class="t" cx="735" cy="365" r="12"/><circle class="l" cx="735" cy="365" r="5"/>
<path class="c" d="M540,365 L930,365 M735,120 L735,560"/>
</g>
<g id="bolt"><circle class="l" cx="0" cy="0" r="8"/><path class="d" d="M-12,-12 L12,12 M12,-12 L-12,12"/></g>
</defs>
<!-- Opt 1 -->
<g transform="translate(90,1050) scale(0.24)">
<use href="#optside"/><use href="#optfront"/>
<use href="#bolt" x="620" y="250"/><use href="#bolt" x="850" y="250"/><use href="#bolt" x="620" y="480"/><use href="#bolt" x="850" y="480"/>
<path class="d" d="M550,132 L645,132 L808,560 M485,178 L575,178 L640,290 M850,250 L908,192"/>
<path class="d" d="M735,120 A245,245 0 0 1 908,192"/>
<path d="M908.0,192.0 L883.4,174.2 L890.2,167.4 Z" fill="#1a1a1a"/><path d="M735.0,120.0 L765.0,115.2 L765.0,124.8 Z" fill="#1a1a1a"/>
</g>
<text transform="translate(101.50,1128.70)" font-size="8.99" style="font-weight:bold;" fill="#1a1a1a">Ø350</text>
<text transform="translate(118.80,1140.70)" font-size="9.12" style="font-weight:bold;" fill="#1a1a1a">Ø250</text>
<text transform="translate(139.20,1128.70)" font-size="6.01" style="font-weight:bold;" fill="#1a1a1a">-0.02</text>
<text transform="translate(139.20,1134.00)" font-size="6.01" style="font-weight:bold;" fill="#1a1a1a">-0.04</text>
<text transform="translate(163.20,1085.50)" font-size="7.91" style="font-weight:bold;" fill="#1a1a1a">140</text>
<text transform="translate(168.00,1099.20)" font-size="8.5" style="font-weight:bold;" fill="#1a1a1a">4</text>
<text transform="translate(164.40,1191.60)" font-size="7.55" style="font-weight:bold;" fill="#1a1a1a">20</text>
<text transform="translate(223.20,1079.30)" font-size="8.34" style="font-weight:bold;" fill="#1a1a1a">Ø300</text>
<text transform="translate(207.60,1090.30)" font-size="8.46" style="font-weight:bold;" fill="#1a1a1a">Ø18</text>
<text transform="translate(284.60,1077.60) rotate(20)" font-size="8.73" style="font-weight:bold;font-style:italic;" fill="#1a1a1a">45°</text>
<text transform="translate(179.30,1224.00)" font-size="14.65" style="font-weight:bold;" fill="#1a1a1a">Opt. 1</text>
<!-- Opt 2 -->
<g transform="translate(397.6,1048.2) scale(0.24)">
<use href="#optside"/><use href="#optfront"/>
<use href="#bolt" x="620" y="250"/><use href="#bolt" x="850" y="250"/><use href="#bolt" x="620" y="480"/><use href="#bolt" x="850" y="480"/>
<path class="d" d="M550,132 L645,132 L808,560 M485,178 L575,178 L640,290 M850,250 L908,192"/>
<path class="d" d="M735,120 A245,245 0 0 1 908,192"/>
<path d="M908.0,192.0 L883.4,174.2 L890.2,167.4 Z" fill="#1a1a1a"/><path d="M735.0,120.0 L765.0,115.2 L765.0,124.8 Z" fill="#1a1a1a"/>
</g>
<text transform="translate(410.00,1126.80)" font-size="8.67" style="font-weight:bold;" fill="#1a1a1a">Ø450</text>
<text transform="translate(427.60,1138.30)" font-size="8.99" style="font-weight:bold;" fill="#1a1a1a">Ø350</text>
<text transform="translate(448.00,1125.60)" font-size="5.79" style="font-weight:bold;" fill="#1a1a1a">-0.02</text>
<text transform="translate(448.00,1131.60)" font-size="5.79" style="font-weight:bold;" fill="#1a1a1a">-0.05</text>
<text transform="translate(471.50,1084.30)" font-size="8.21" style="font-weight:bold;" fill="#1a1a1a">140</text>
<text transform="translate(475.60,1098.00)" font-size="8.5" style="font-weight:bold;" fill="#1a1a1a">5</text>
<text transform="translate(472.00,1191.60)" font-size="8.09" style="font-weight:bold;" fill="#1a1a1a">22</text>
<text transform="translate(530.80,1078.30)" font-size="8.54" style="font-weight:bold;" fill="#1a1a1a">Ø400</text>
<text transform="translate(515.20,1089.60)" font-size="8.62" style="font-weight:bold;" fill="#1a1a1a">Ø18</text>
<text transform="translate(590.00,1077.20) rotate(20)" font-size="8.73" style="font-weight:bold;font-style:italic;" fill="#1a1a1a">45°</text>
<text transform="translate(490.70,1226.40)" font-size="14.58" style="font-weight:bold;" fill="#1a1a1a">Opt. 2</text>

<!-- Opt 3 -->
<g transform="translate(690,1050) scale(0.24)">
<path class="d" d="M60,172 L60,540 M60,172 L375,172 M60,540 L375,540 M130,213 L130,490 M130,213 L358,213 M130,490 L358,490 M235,145 L358,145 M235,139 L235,317 M358,139 L358,213 M265,268 L375,268 M258,592 L420,592 M358,540 L358,597 M378,540 L378,597"/>
<path d="M60.0,172.0 L64.8,202.0 L55.2,202.0 Z" fill="#1a1a1a"/><path d="M60.0,540.0 L55.2,510.0 L64.8,510.0 Z" fill="#1a1a1a"/><path d="M130.0,213.0 L134.8,243.0 L125.2,243.0 Z" fill="#1a1a1a"/><path d="M130.0,490.0 L125.2,460.0 L134.8,460.0 Z" fill="#1a1a1a"/>
<path d="M235.0,145.0 L265.0,140.2 L265.0,149.8 Z" fill="#1a1a1a"/><path d="M358.0,145.0 L328.0,149.8 L328.0,140.2 Z" fill="#1a1a1a"/>
<path d="M358.0,268.0 L328.0,272.8 L328.0,263.2 Z" fill="#1a1a1a"/>
<path d="M358.0,592.0 L328.0,596.8 L328.0,587.2 Z" fill="#1a1a1a"/><path d="M378.0,592.0 L408.0,587.2 L408.0,596.8 Z" fill="#1a1a1a"/>
<path class="t" style="stroke-width:1.2" d="M358,317 L241,317 Q237,317 237,321 L237,381 Q237,385 241,385 L358,385"/>
<path class="t" style="stroke-width:1.2" d="M358,172 L376,172 L380,228 Q408,240 414,262 L418,290 L405,312 L405,392 L418,415 L414,445 Q408,468 380,480 L376,540 L358,540 Z"/>
<path class="l" d="M358,305 L378,305 L378,397 L358,397 M358,213 L372,213 M358,490 L372,490 M372,213 L372,290 L378,305 M372,490 L372,412 L378,397"/>
<path class="c" d="M225,352 L430,352"/>
<!-- front -->
<circle class="t" cx="695" cy="352" r="185"/>
<circle class="l" cx="695" cy="352" r="140"/><circle class="l" cx="695" cy="352" r="132"/>
<circle class="t" style="stroke-width:1.1" cx="695" cy="352" r="82"/><circle class="l" cx="695" cy="352" r="72"/>
<circle class="l" cx="695" cy="352" r="45"/><circle class="t" style="stroke-width:1.1" cx="695" cy="352" r="33"/>
<circle class="t" cx="695" cy="352" r="12"/><circle class="l" cx="695" cy="352" r="5"/>
<path class="c" d="M505,352 L885,352 M695,105 L695,542"/>
<use href="#bolt" x="633" y="202"/><use href="#bolt" x="757" y="202"/><use href="#bolt" x="845" y="290"/><use href="#bolt" x="845" y="414"/><use href="#bolt" x="757" y="502"/><use href="#bolt" x="633" y="502"/><use href="#bolt" x="545" y="414"/><use href="#bolt" x="545" y="290"/>
<path class="d" d="M478,140 L580,140 L668,245 M975,162 L880,162 L555,500 M695,110 L695,120 M790,112 L757,202"/>
<path class="d" d="M695,110 Q745,108 790,125"/>
<path d="M790.0,125.0 L760.2,119.2 L763.5,110.2 Z" fill="#1a1a1a"/><path d="M695.0,110.0 L725.0,105.2 L725.0,114.8 Z" fill="#1a1a1a"/>
</g>
<text transform="translate(693.60,1124.40)" font-size="8.67" style="font-weight:bold;" fill="#1a1a1a">Ø550</text>
<text transform="translate(711.00,1136.40)" font-size="8.58" style="font-weight:bold;" fill="#1a1a1a">Ø450</text>
<text transform="translate(729.60,1124.40)" font-size="6.01" style="font-weight:bold;" fill="#1a1a1a">-0.02</text>
<text transform="translate(729.60,1130.40)" font-size="6.01" style="font-weight:bold;" fill="#1a1a1a">-0.06</text>
<text transform="translate(753.60,1082.40)" font-size="8.63" style="font-weight:bold;" fill="#1a1a1a">140</text>
<text transform="translate(756.70,1111.20)" font-size="8.5" style="font-weight:bold;" fill="#1a1a1a">5</text>
<text transform="translate(754.80,1189.20)" font-size="8.09" style="font-weight:bold;" fill="#1a1a1a">25</text>
<text transform="translate(805.70,1081.20)" font-size="8.36" style="font-weight:bold;" fill="#1a1a1a">Ø18</text>
<text transform="translate(862.00,1074.20) rotate(14)" font-size="8.69" style="font-weight:bold;font-style:italic;" fill="#1a1a1a">22.5°</text>
<text transform="translate(903.00,1086.50)" font-size="8.26" style="font-weight:bold;" fill="#1a1a1a">Ø500</text>
<text transform="translate(794.40,1226.90)" font-size="14.58" style="font-weight:bold;" fill="#1a1a1a">Opt. 3</text>

<!-- footer -->
<text transform="translate(72.50,1305.30)" font-size="21" style="font-weight:bold;" fill="#1a1a1a">*</text>
<text transform="translate(83.00,1305.50)" font-size="11.77" style="font-weight:bold;" fill="#1a1a1a">“ k1 “ Ölçüsü frenli redüktörlere aittir.</text>
<text transform="translate(300.40,1305.50)" font-size="11.62" style="font-style:italic;" fill="#1a1a1a">Dimension “ k1” is for motors with brake.</text>
<text transform="translate(512.00,1305.50)" font-size="11.89" style="" fill="#1a1a1a">Maße “ k1 ” ist für Bremsenmotoren.</text>
<text transform="translate(72.00,1360.00)" font-size="15.22" style="font-style:italic;" fill="#1a1a1a">www.yr.com.tr</text>
<line x1="171.5" y1="1358.7" x2="470.4" y2="1358.7" stroke="#8a1a6c" stroke-width="1.6"/>
<line x1="528" y1="1358.7" x2="927.6" y2="1358.7" stroke="#8a1a6c" stroke-width="1.6"/>
<text transform="translate(931.60,1362.40)" font-size="15.58" style="" fill="#1a1a1a">125</text>
<defs>
<linearGradient id="lg1" x1="0" y1="0" x2="1" y2="1"><stop offset="0" stop-color="#d8d8d8"/><stop offset="1" stop-color="#4a4a4a"/></linearGradient>
<linearGradient id="lg2" x1="1" y1="0" x2="0" y2="1"><stop offset="0" stop-color="#e0e0e0"/><stop offset="1" stop-color="#555"/></linearGradient>
<linearGradient id="lg3" x1="0" y1="0" x2="0" y2="1"><stop offset="0" stop-color="#8a1a6c"/><stop offset="1" stop-color="#e8c8e0"/></linearGradient>
</defs>
<g transform="translate(400,1320) scale(0.2)">
<path d="M378,88 L456,150 L420,192 L378,208 Z" fill="url(#lg1)"/>
<path d="M628,88 L628,208 L508,208 L530,180 Z" fill="url(#lg2)"/>
<path d="M462,88 L548,88 L505,128 Z" fill="url(#lg3)"/>
<path d="M378,88 L400,88 L505,175 L600,88 L628,88 L520,195 L508,208 L470,208 L480,180 L456,150 Z" fill="#fff" opacity="0"/>
</g>
<g font-weight="bold" fill="#111" stroke="#111">
<text transform="translate(476.00,1372.40) scale(1.2939,1)" font-size="10.3" style="font-weight:bold;" fill="#1a1a1a">YILMAZ</text>
</g>
<text transform="translate(476.40,1380.00) scale(1.8875,1)" font-size="4.6" style="font-weight:bold;" fill="#1a1a1a">REDÜKTÖR</text>

<!-- watermarks -->
<defs><g id="wm" fill="#e2e2e2" opacity=".55">
<path d="M33.1,-7.6 L33.1,-24.6 L-2.0,-44.9 L-37.1,-24.6 L-37.1,15.8 L-2.0,36.1 M30.6,-5.1 L31.7,-20.8 L0.6,-41.8 L-33.1,-25.4 L-35.7,12.0 L-4.6,33.0 M28.0,-3.0 L30.0,-17.3 L2.8,-38.6 L-29.2,-25.6 L-34.0,8.5 L-6.8,29.8 M25.2,-1.2 L28.0,-14.1 L4.5,-35.2 L-25.4,-25.5 L-32.0,5.3 L-8.5,26.4 M22.4,0.2 L25.7,-11.3 L5.9,-31.8 L-21.8,-24.9 L-29.7,2.5 L-9.9,23.0 M19.4,1.2 L23.1,-8.8 L6.7,-28.4 L-18.4,-23.9 L-27.1,0.0 L-10.7,19.6" fill="none" stroke="#e2e2e2" stroke-width="1.2" stroke-linejoin="round"/>
<g opacity=".8"><text transform="translate(0.00,11.00) scale(0.9341,1)" font-size="15.3" style="" fill="#e2e2e2">ПРОМЫШЛЕННЫЕ</text></g>
<g opacity=".6"><text transform="translate(0.00,34.00) scale(0.8998,1)" font-size="23" style="" fill="#e2e2e2">РЕДУКТОРЫ</text></g>
</g></defs>
<use href="#wm" x="-181.5" y="-68.5"/>
<use href="#wm" x="138.5" y="-68.5"/>
<use href="#wm" x="458.5" y="-68.5"/>
<use href="#wm" x="778.5" y="-68.5"/>
<use href="#wm" x="-299.4" y="35.4"/>
<use href="#wm" x="20.6" y="35.4"/>
<use href="#wm" x="340.6" y="35.4"/>
<use href="#wm" x="660.6" y="35.4"/>
<use href="#wm" x="980.6" y="35.4"/>
<use href="#wm" x="-97.2" y="139.3"/>
<use href="#wm" x="222.8" y="139.3"/>
<use href="#wm" x="542.8" y="139.3"/>
<use href="#wm" x="862.8" y="139.3"/>
<use href="#wm" x="-215.0" y="243.2"/>
<use href="#wm" x="105.0" y="243.2"/>
<use href="#wm" x="425.0" y="243.2"/>
<use href="#wm" x="745.0" y="243.2"/>
<use href="#wm" x="-12.9" y="347.1"/>
<use href="#wm" x="307.1" y="347.1"/>
<use href="#wm" x="627.1" y="347.1"/>
<use href="#wm" x="947.1" y="347.1"/>
<use href="#wm" x="-130.7" y="451.0"/>
<use href="#wm" x="189.3" y="451.0"/>
<use href="#wm" x="509.3" y="451.0"/>
<use href="#wm" x="829.3" y="451.0"/>
<use href="#wm" x="-248.6" y="554.9"/>
<use href="#wm" x="71.4" y="554.9"/>
<use href="#wm" x="391.4" y="554.9"/>
<use href="#wm" x="711.4" y="554.9"/>
<use href="#wm" x="1031.4" y="554.9"/>
<use href="#wm" x="-46.4" y="658.8"/>
<use href="#wm" x="273.6" y="658.8"/>
<use href="#wm" x="593.6" y="658.8"/>
<use href="#wm" x="913.6" y="658.8"/>
<use href="#wm" x="-164.2" y="762.7"/>
<use href="#wm" x="155.8" y="762.7"/>
<use href="#wm" x="475.8" y="762.7"/>
<use href="#wm" x="795.8" y="762.7"/>
<use href="#wm" x="-282.1" y="866.6"/>
<use href="#wm" x="37.9" y="866.6"/>
<use href="#wm" x="357.9" y="866.6"/>
<use href="#wm" x="677.9" y="866.6"/>
<use href="#wm" x="997.9" y="866.6"/>
<use href="#wm" x="-79.9" y="970.5"/>
<use href="#wm" x="240.1" y="970.5"/>
<use href="#wm" x="560.1" y="970.5"/>
<use href="#wm" x="880.1" y="970.5"/>
<use href="#wm" x="-197.8" y="1074.4"/>
<use href="#wm" x="122.2" y="1074.4"/>
<use href="#wm" x="442.2" y="1074.4"/>
<use href="#wm" x="762.2" y="1074.4"/>
<use href="#wm" x="-315.6" y="1178.3"/>
<use href="#wm" x="4.4" y="1178.3"/>
<use href="#wm" x="324.4" y="1178.3"/>
<use href="#wm" x="644.4" y="1178.3"/>
<use href="#wm" x="964.4" y="1178.3"/>
<use href="#wm" x="-113.4" y="1282.2"/>
<use href="#wm" x="206.6" y="1282.2"/>
<use href="#wm" x="526.6" y="1282.2"/>
<use href="#wm" x="846.6" y="1282.2"/>
<use href="#wm" x="-231.3" y="1386.1"/>
<use href="#wm" x="88.7" y="1386.1"/>
<use href="#wm" x="408.7" y="1386.1"/>
<use href="#wm" x="728.7" y="1386.1"/>
<use href="#wm" x="-29.1" y="1490.0"/>
<use href="#wm" x="290.9" y="1490.0"/>
<use href="#wm" x="610.9" y="1490.0"/>
<use href="#wm" x="930.9" y="1490.0"/>
</svg>
</body></html>
